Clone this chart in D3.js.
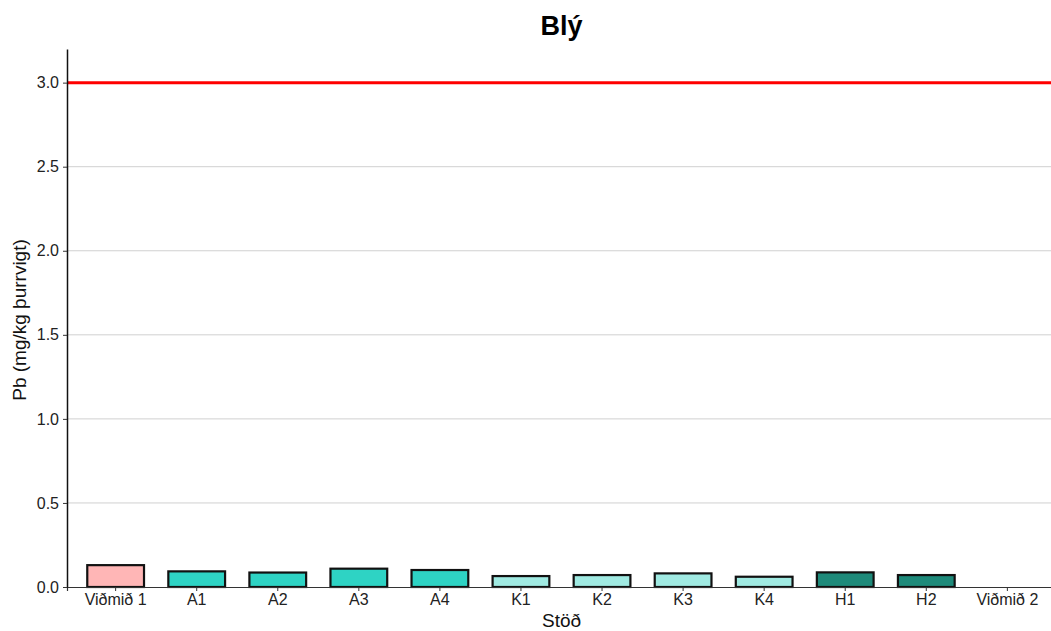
<!DOCTYPE html>
<html>
<head>
<meta charset="utf-8">
<script src="https://cdn.jsdelivr.net/npm/d3@7"></script>
<style>
  body { margin: 0; background: #fff; }
  svg { display: block; font-family: "Liberation Sans", Arial, sans-serif; }
</style>
</head>
<body>
<svg id="chart" width="1051" height="631"></svg>
<script>
const categories = ["Viðmið 1", "A1", "A2", "A3", "A4", "K1", "K2", "K3", "K4", "H1", "H2", "Viðmið 2"];
const values = [0.13, 0.093, 0.086, 0.109, 0.101, 0.065, 0.071, 0.081, 0.061, 0.087, 0.071, null];
const groups = ["V", "A", "A", "A", "A", "K", "K", "K", "K", "H", "H", "V"];
const groupColors = { V: "#FFB6B6", A: "#2ED3C4", K: "#A0EAE2", H: "#1E8A7A" };
const yTicks = [0, 0.5, 1.0, 1.5, 2.0, 2.5, 3.0];
const limitValue = 3.0;
const titleText = "Blý";
const xLabel = "Stöð";
const yLabel = "Pb (mg/kg þurrvigt)";

(function () {
const svg = d3.select("#chart");
const mLeft = 67, mRight = 1056, mTop = 49, mBottom = 587;

const x = d3.scaleBand().domain(categories).range([mLeft, mRight])
  .paddingInner(0.3).paddingOuter(0.25);
const y = d3.scaleLinear().domain([0, 3.2]).range([mBottom, mTop]);

// gridlines
svg.append("g").selectAll("line").data(yTicks.filter(d => d > 0)).join("line")
  .attr("x1", mLeft).attr("x2", 1051)
  .attr("y1", d => y(d)).attr("y2", d => y(d))
  .attr("stroke", "#d0d0d0").attr("stroke-width", 1);

// bars
const data = categories.map((c, i) => ({ c, v: values[i], g: groups[i] }));
svg.append("g").selectAll("rect").data(data.filter(d => d.v != null)).join("rect")
  .attr("x", d => x(d.c))
  .attr("width", x.bandwidth())
  .attr("y", d => y(d.v))
  .attr("height", d => y(0) - y(d.v))
  .attr("fill", d => groupColors[d.g])
  .attr("stroke", "#111")
  .attr("stroke-width", 2.2);

// limit line
svg.append("line")
  .attr("x1", mLeft).attr("x2", 1051)
  .attr("y1", y(limitValue)).attr("y2", y(limitValue))
  .attr("stroke", "#ff0000").attr("stroke-width", 3);

// x axis
const xAxis = svg.append("g").attr("transform", `translate(0,${mBottom})`)
  .call(d3.axisBottom(x).tickSizeOuter(0).tickSize(4).tickPadding(3));
xAxis.select(".domain").attr("stroke", "#333").attr("stroke-width", 1.2);
xAxis.selectAll(".tick line").attr("stroke", "#333");
xAxis.selectAll("text").attr("font-size", 16).attr("fill", "#222")
  .attr("font-family", "Liberation Sans, Arial, sans-serif");

// y axis
const yAxis = svg.append("g").attr("transform", `translate(${mLeft},0)`)
  .call(d3.axisLeft(y).tickValues(yTicks).tickFormat(d3.format(".1f")).tickSize(4).tickSizeOuter(0).tickPadding(4));
yAxis.select(".domain").attr("stroke", "#111").attr("stroke-width", 1.5);
yAxis.selectAll(".tick line").attr("stroke", "#333");
yAxis.selectAll("text").attr("font-size", 16).attr("fill", "#222")
  .attr("font-family", "Liberation Sans, Arial, sans-serif");

// title
svg.append("text").attr("x", (mLeft + mRight) / 2).attr("y", 35)
  .attr("text-anchor", "middle").attr("font-size", 27).attr("font-weight", "bold")
  .attr("fill", "#000").text(titleText);

// x label
svg.append("text").attr("x", (mLeft + mRight) / 2).attr("y", 627)
  .attr("text-anchor", "middle").attr("font-size", 19).attr("fill", "#111").text(xLabel);

// y label
svg.append("text").attr("transform", `translate(26,${(mTop + mBottom) / 2 + 2}) rotate(-90)`)
  .attr("text-anchor", "middle").attr("font-size", 19).attr("fill", "#111").text(yLabel);
})();
</script>
</body>
</html>
